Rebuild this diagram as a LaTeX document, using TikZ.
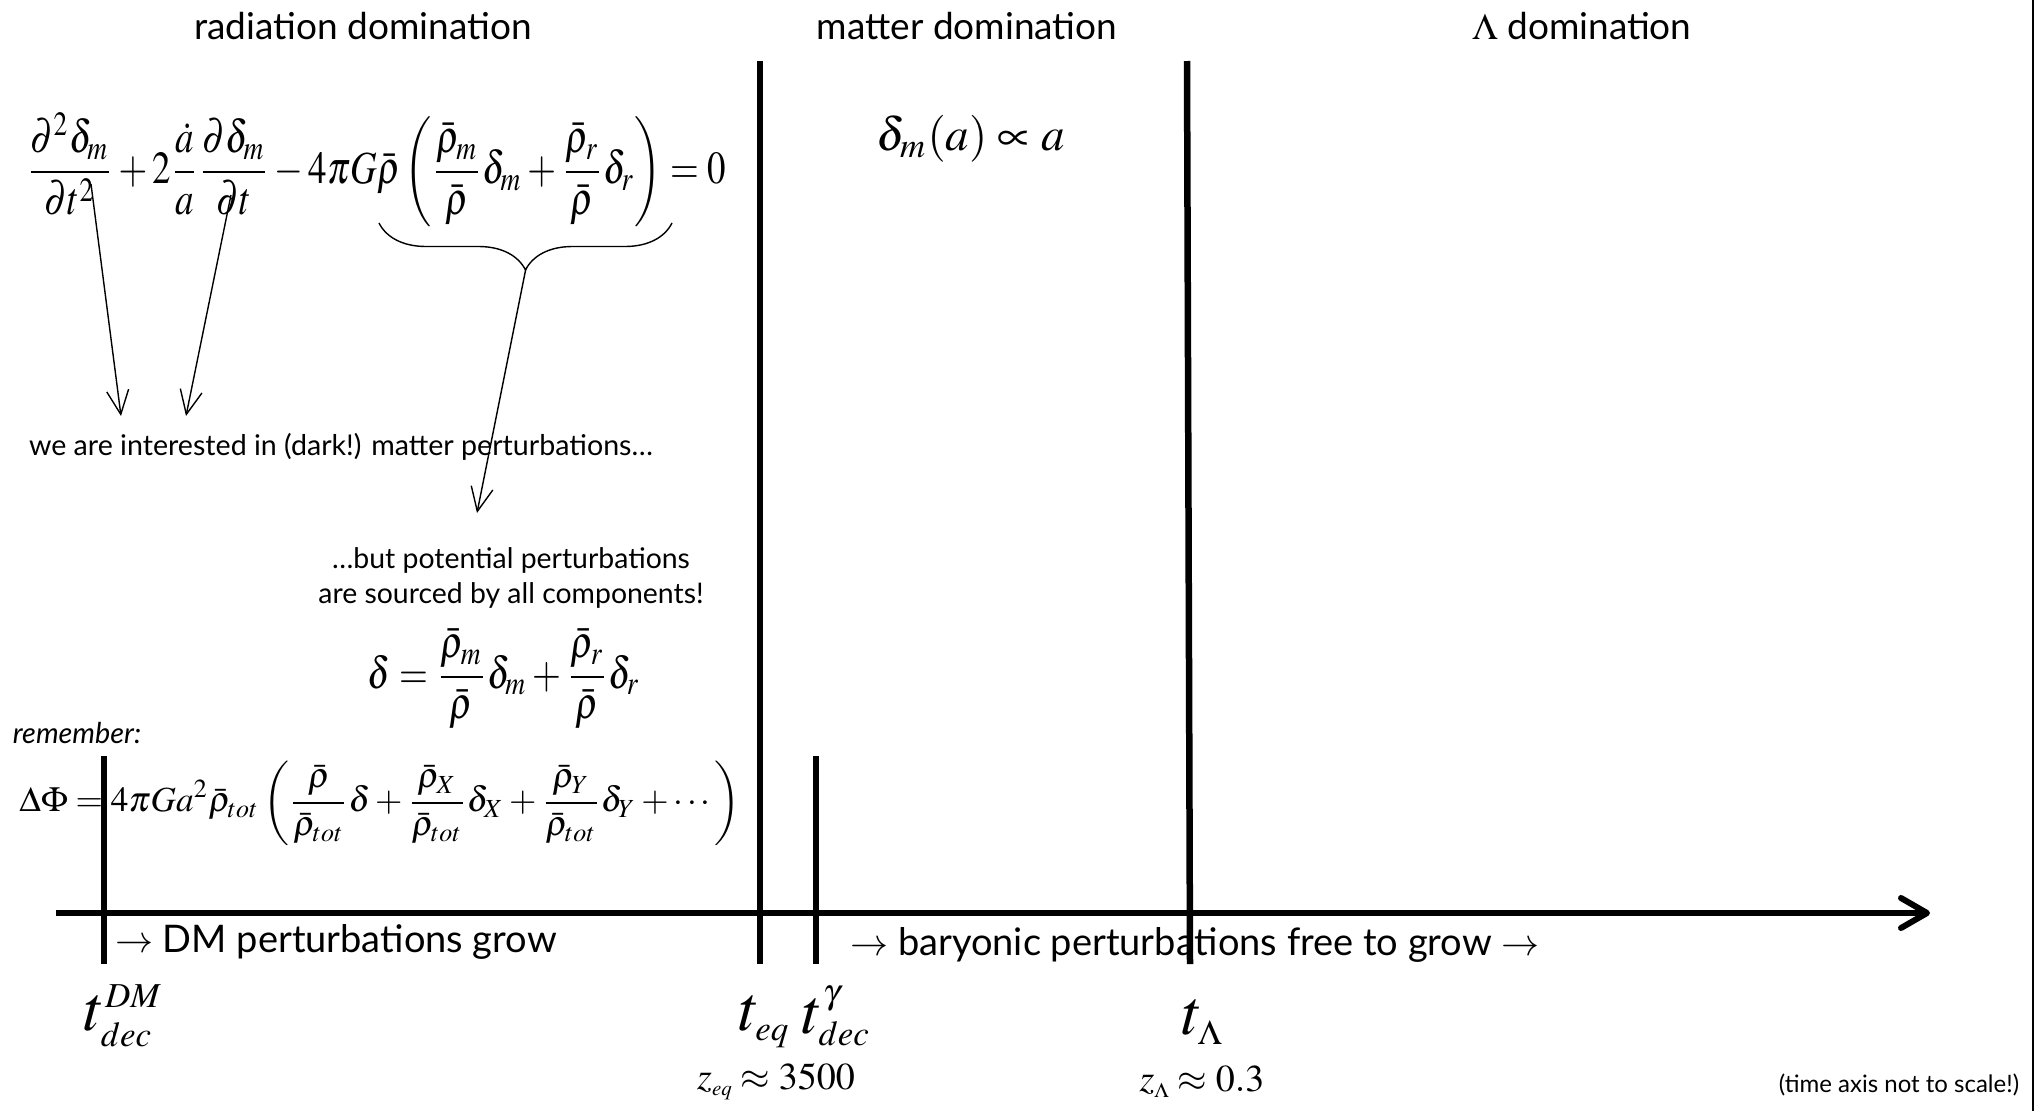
\documentclass[tikz,border=0pt]{standalone}
\usepackage{amsmath}
\usepackage{mathptmx}
\usepackage{fontspec}
\setmainfont{Liberation Serif}
\newfontfamily\gill{Lato}
\DeclareMathSizes{64}{64}{35}{28}
\DeclareMathSizes{38}{38}{21}{16}
\usetikzlibrary{arrows.meta,decorations.pathreplacing}
\begin{document}
\begin{tikzpicture}[x=1pt,y=-1pt,
  lbl/.style={inner sep=0pt, font=\gill\fontsize{#1}{#1}\selectfont},
  mth/.style={inner sep=0pt, font=\fontsize{#1}{#1}\selectfont},
  era/.style={line width=6.5pt},
  pointer/.style={line width=1.4pt, -{Straight Barb[length=24pt,width=22pt]}},
  axisline/.style={line width=6pt, -{Straight Barb[length=26pt,width=30pt,round]}}]
\useasboundingbox (0,0) rectangle (2037,1111);
\fill[white] (0,0) rectangle (2037,1111);

% headers
\node[lbl=37] (hrad) at (363,26) {radiation domination};
\node[lbl=37] (hmat) at (967,26) {matter domination};
\node[lbl=37] (hlam) at (1582,26) {$\Lambda$ domination};

% equations
\node[inner sep=0pt] (eqA) at (376,170) {\resizebox*{699pt}{114pt}{$\displaystyle \frac{\partial^2\delta_m}{\partial t^2}+2\frac{\dot a}{a}\frac{\partial\delta_m}{\partial t}-4\pi G\bar\rho\left(\frac{\bar\rho_m}{\bar\rho}\delta_m+\frac{\bar\rho_r}{\bar\rho}\delta_r\right)=0$}};
\node[inner sep=0pt] (growth) at (971,139) {\resizebox{188pt}{!}{$\delta_m(a)\propto a$}};
\node[inner sep=0pt] (deltadef) at (504,679) {\resizebox*{272pt}{100pt}{$\displaystyle\delta=\frac{\bar\rho_m}{\bar\rho}\delta_m+\frac{\bar\rho_r}{\bar\rho}\delta_r$}};
\node[inner sep=0pt] (poisson) at (380,803) {\resizebox{721pt}{!}{$\displaystyle\Delta\Phi = 4\pi G a^2\bar\rho_{tot}\left(\frac{\bar\rho}{\bar\rho_{tot}}\delta+\frac{\bar\rho_X}{\bar\rho_{tot}}\delta_X+\frac{\bar\rho_Y}{\bar\rho_{tot}}\delta_Y+\cdots\right)$}};

% texts
\node[lbl=28.6] (interest) at (341,447) {we are interested in (dark!) matter perturbations\ldots};
\node[lbl=28.4, align=center] (sourced) at (511,578) {\ldots but potential perturbations\\[7pt]are sourced by all components!};
\node[lbl=28.8, font=\gill\itshape\fontsize{28.8}{28.8}\selectfont] (remember) at (77,733) {remember:};
\node[lbl=38] (dmgrow) at (336,942) {$\rightarrow$ DM perturbations grow};
\node[lbl=38] (bargrow) at (1195,945) {$\rightarrow$ baryonic perturbations free to grow $\rightarrow$};
\node[lbl=24] (noscale) at (1899,1085) {(time axis not to scale!)};

% time labels
\node[mth=64] (tDM) at (123,1016) {$t_{dec}^{DM}$};
\node[mth=64] (teq) at (764,1022) {$t_{eq}$};
\node[mth=64] (tgam) at (836,1016) {$t_{dec}^{\gamma}$};
\node[mth=64] (tlam) at (1202,1022) {$t_{\Lambda}$};
\node[mth=38] (zeq) at (776,1082) {$z_{eq}\approx 3500$};
\node[mth=38] (zlam) at (1202,1082) {$z_{\Lambda}\approx 0.3$};

% brace and pointers
\coordinate (brL) at (379,223);
\coordinate (brR) at (672,223);
\draw[line width=1.4pt, decorate, decoration={brace, mirror, amplitude=47pt}] (brL) -- (brR);
\coordinate (brTip) at (526,268);
\coordinate (p1s) at (91,184);
\coordinate (p1e) at (121,416);
\coordinate (p2s) at (231,195);
\coordinate (p2e) at (186,416);
\coordinate (p3e) at (477,513);
\draw[pointer] (p1s) -- (p1e);
\draw[pointer] (p2s) -- (p2e);
\draw[pointer] (brTip) -- (p3e);

% axis and era lines
\coordinate (axL) at (56,913);
\coordinate (axR) at (1930,913);
\draw[axisline] (axL) -- (axR);
\coordinate (eqTop) at (760,61);
\coordinate (eqBot) at (760,964);
\coordinate (lamTop) at (1187,61);
\coordinate (lamBot) at (1190,964);
\coordinate (gamTop) at (816,756);
\coordinate (gamBot) at (816,964);
\coordinate (dmTop) at (104,756);
\coordinate (dmBot) at (104,964);
\draw[era] (eqTop) -- (eqBot);
\draw[era] (lamTop) -- (lamBot);
\draw[era] (gamTop) -- (gamBot);
\draw[era] (dmTop) -- (dmBot);

% slide edge
\coordinate (edgeT) at (2033,0);
\coordinate (edgeB) at (2033,1111);
\draw[line width=2.5pt] (edgeT) -- (edgeB);
\end{tikzpicture}
\end{document}
